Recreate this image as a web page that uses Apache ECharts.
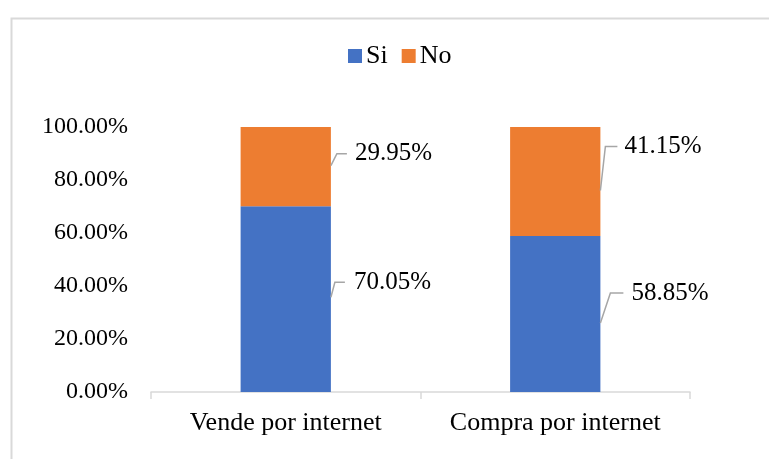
<!DOCTYPE html>
<html>
<head>
<meta charset="utf-8">
<script src="https://cdn.jsdelivr.net/npm/echarts@6/dist/echarts.min.js"></script>
<style>
  html, body { margin: 0; padding: 0; background: #fff; }
  #chart { width: 769px; height: 459px; }
</style>
</head>
<body>
<div id="chart"></div>
<script>
// data
const categories = ['Vende por internet', 'Compra por internet']
const siValues = [70.05, 58.85]
const noValues = [29.95, 41.15]
const yTicks = [0, 20, 40, 60, 80, 100]

// leader line styling per label: [startDy, elbowDx, elbowDy, lineLen, textGap]
// dy measured from the segment middle, dx from the bar's right edge
const siLeader = [[-2, 4, -17, 10, 9], [9, 10, -21, 13, 8]]
const noLeader = [[-1, 6, -13, 10, 8], [9, 5, -35, 12, 7]]

const FONT = 'Liberation Serif'
const BAR_RATIO = 0.335

const chart = echarts.init(document.getElementById('chart'))

function leaderData(base, vals, tweaks) {
  return vals.map((v, i) => [i, base ? base[i] : 0, (base ? base[i] : 0) + v, v].concat(tweaks[i]))
}

function renderLeader(params, api) {
  const ci = api.value(0)
  const lo = api.value(1)
  const hi = api.value(2)
  const val = api.value(3)
  const mid = api.coord([ci, (lo + hi) / 2])
  const cw = api.size([1, 0])[0]
  const right = mid[0] + (cw * BAR_RATIO) / 2
  const y0 = mid[1] + api.value(4)
  const ex = right + api.value(5)
  const ey = mid[1] + api.value(6)
  const endX = ex + api.value(7)
  return {
    type: 'group',
    children: [
      {
        type: 'polyline',
        shape: { points: [[right, y0], [ex, ey], [endX, ey]] },
        style: { stroke: '#A6A6A6', lineWidth: 1.5, fill: null },
      },
      {
        type: 'text',
        style: {
          x: endX + api.value(8),
          y: ey,
          text: val.toFixed(2) + '%',
          fill: '#000',
          font: `25px "${FONT}"`,
          verticalAlign: 'middle',
          align: 'left',
        },
      },
    ],
  }
}

chart.setOption({
  animation: false,
  textStyle: { fontFamily: FONT },
  graphic: [
    {
      type: 'rect',
      left: 9,
      top: 16,
      shape: { width: 800, height: 500 },
      style: { fill: 'none', stroke: '#D9D9D9', lineWidth: 2 },
      silent: true,
    },
  ],
  legend: {
    data: ['Si', 'No'],
    top: 38,
    left: 343,
    icon: 'rect',
    itemWidth: 14,
    itemHeight: 14,
    itemGap: 14,
    textStyle: { fontFamily: FONT, fontSize: 26, color: '#000', padding: [0, 0, 0, -1] },
  },
  grid: { left: 151, right: 79, top: 127, bottom: 67 },
  xAxis: {
    type: 'category',
    data: categories,
    axisLine: { lineStyle: { color: '#D9D9D9', width: 1.5 } },
    axisTick: { show: true, length: 7, lineStyle: { color: '#D9D9D9', width: 1.5 } },
    axisLabel: { color: '#000', fontFamily: FONT, fontSize: 26, margin: 18, interval: 0, hideOverlap: false },
  },
  yAxis: {
    type: 'value',
    min: yTicks[0],
    max: yTicks[yTicks.length - 1],
    interval: yTicks[1] - yTicks[0],
    splitLine: { show: false },
    axisLine: { show: false },
    axisTick: { show: false },
    axisLabel: {
      color: '#000',
      fontFamily: FONT,
      fontSize: 24,
      margin: 23,
      formatter: (v) => v.toFixed(2) + '%',
    },
  },
  series: [
    {
      name: 'Si',
      type: 'bar',
      stack: 'total',
      data: siValues,
      barWidth: (BAR_RATIO * 100) + '%',
      itemStyle: { color: '#4472C4' },
    },
    {
      name: 'No',
      type: 'bar',
      stack: 'total',
      data: noValues,
      barWidth: (BAR_RATIO * 100) + '%',
      itemStyle: { color: '#ED7D31' },
    },
    {
      name: 'siLabels',
      type: 'custom',
      renderItem: renderLeader,
      data: leaderData(null, siValues, siLeader),
      encode: { x: 0, y: [1, 2] },
      silent: true,
      z: 5,
    },
    {
      name: 'noLabels',
      type: 'custom',
      renderItem: renderLeader,
      data: leaderData(siValues, noValues, noLeader),
      encode: { x: 0, y: [1, 2] },
      silent: true,
      z: 5,
    },
  ],
})
</script>
</body>
</html>
